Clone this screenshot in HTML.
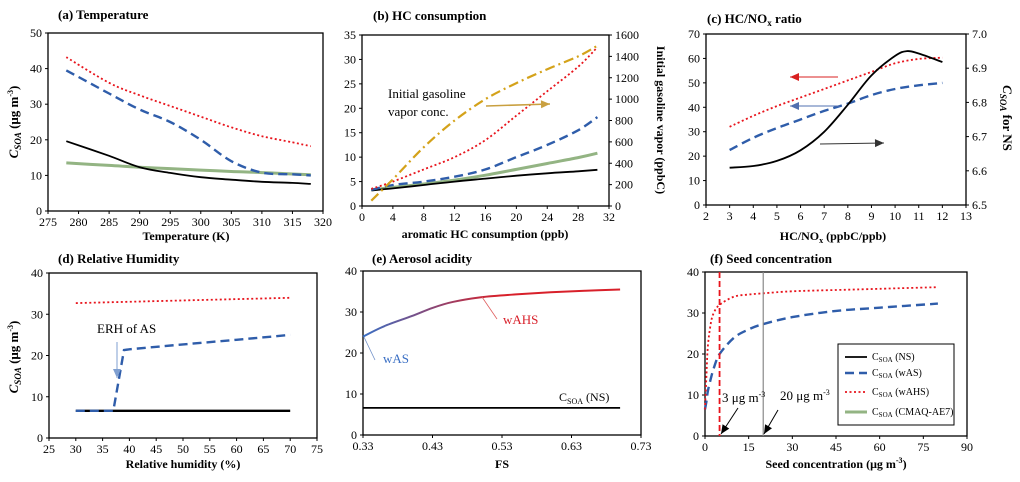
<!DOCTYPE html>
<html><head><meta charset="utf-8"><style>
html,body{margin:0;padding:0;background:#fff;}
svg{display:block;font-family:"Liberation Serif",serif;}
</style></head><body>
<svg id="fig" width="1020" height="482" viewBox="0 0 1020 482" xmlns="http://www.w3.org/2000/svg">
<defs>
<linearGradient id="acidGrad" gradientUnits="userSpaceOnUse" x1="363" y1="0" x2="500" y2="0">
<stop offset="0" stop-color="#3a6fc4"/><stop offset="1" stop-color="#d8202a"/></linearGradient>
</defs>
</svg>
<script>
// ---------- data ----------
const aT = [278,285,290,295,300,305,310,315,318];
const aNS = [19.6,15.5,12.3,10.7,9.5,8.8,8.2,7.9,7.6];
const aWAS = [39.5,33,28.5,25,20,14,10.8,10.3,10];
const aWAHS = [43.2,36,32.5,29.5,26.5,23.5,21,19.3,18.2];
const aCMAQ = [13.5,12.8,12.3,11.9,11.5,11.1,10.8,10.4,10.2];
const bX = [1.2,4,8,12,16,20,24,28,30.5];
const bNS = [3.2,3.6,4.3,5,5.6,6.2,6.7,7.1,7.4];
const bCMAQ = [3.3,3.8,4.5,5.3,6.3,7.5,8.7,9.9,10.8];
const bWAS = [3.3,4.3,5.0,6.0,7.5,10,12.5,15.5,18.2];
const bWAHS = [3.5,5.0,7.5,10,13.5,18.5,23.5,28.5,32.5];
const bGas = [50,250,550,800,1000,1150,1280,1400,1500];
const cX = [3,4,5,6,7,8,9,10,11,12];
const cWAHS = [32,36.5,40.5,44,47.5,51,54.5,58,59.8,60.3];
const cWAS = [22.5,27.5,31.5,35,38.5,41.5,45,47.5,49,50];
const cNSX = [3,4,5,6,7,8,9,10,10.5,11,12];
const cNS = [6.609,6.614,6.629,6.66,6.714,6.793,6.879,6.936,6.95,6.943,6.918];
const dRH = [30,37,38,39,40,50,60,70];
const dWAS = [6.6,6.6,14,21.3,21.5,22.7,23.8,25];
const dRH2 = [30,70];
const dNS = [6.6,6.6];
const dWAHS = [32.7,34];
const eFS = [0.33,0.36,0.40,0.43,0.46,0.50,0.55,0.60,0.65,0.70];
const eWAHS = [24,26.5,29,31,32.5,33.6,34.3,34.8,35.2,35.5];
const eFS2 = [0.33,0.70];
const eNS = [6.6,6.6];
const fSeed = [0,0.5,1,2,3,5,10,15,20,30,45,60,80];
const fWAHS = [6.5,15,22,27.5,30,32,34,34.5,34.8,35.3,35.6,35.9,36.3];
const fWAS = [6.5,8.5,11,14,16.5,20,24,26,27.3,29,30.5,31.3,32.3];
const xTicksA = [275,280,285,290,295,300,305,310,315,320];
const yTicksA = [0,10,20,30,40,50];
const xTicksB = [0,4,8,12,16,20,24,28,32];
const yTicksB = [0,5,10,15,20,25,30,35];
const y2TicksB = [0,200,400,600,800,1000,1200,1400,1600];
const xTicksC = [2,3,4,5,6,7,8,9,10,11,12,13];
const yTicksC = [0,10,20,30,40,50,60,70];
const y2TicksC = ["6.5","6.6","6.7","6.8","6.9","7.0"];
const xTicksD = [25,30,35,40,45,50,55,60,65,70,75];
const yTicks40 = [0,10,20,30,40];
const xTicksE = ["0.33","0.43","0.53","0.63","0.73"];
const xTicksF = [0,15,30,45,60,75,90];

// ---------- helpers ----------
const NS_ = "http://www.w3.org/2000/svg";
const svg = document.getElementById('fig');
function mk(tag, attrs, parent){
  const el = document.createElementNS(NS_, tag);
  for (const k in attrs) el.setAttribute(k, attrs[k]);
  (parent||svg).appendChild(el);
  return el;
}
function txt(x,y,s,opt,name){
  const el = mk('text', Object.assign({x:x,y:y,'font-size':12,fill:'#000'}, opt||{}));
  el.textContent = s;
  
  
  return el;
}
function panel(L,T,R,B,x0,x1,y0,y1,y20,y21){
  return {L,T,R,B,x0,x1,y0,y1,y20,y21,
    sx(v){return L+(v-x0)/(x1-x0)*(R-L);},
    sy(v){return B-(v-y0)/(y1-y0)*(B-T);},
    sy2(v){return B-(v-y20)/(y21-y20)*(B-T);}};
}
function pathD(pts){
  let d = 'M'+pts[0][0].toFixed(1)+','+pts[0][1].toFixed(1);
  for (let i=0;i<pts.length-1;i++){
    const p0=pts[Math.max(0,i-1)],p1=pts[i],p2=pts[i+1],p3=pts[Math.min(pts.length-1,i+2)];
    const c1=[p1[0]+(p2[0]-p0[0])/6,p1[1]+(p2[1]-p0[1])/6];
    const c2=[p2[0]-(p3[0]-p1[0])/6,p2[1]-(p3[1]-p1[1])/6];
    d+=' C'+c1[0].toFixed(1)+','+c1[1].toFixed(1)+' '+c2[0].toFixed(1)+','+c2[1].toFixed(1)+' '+p2[0].toFixed(1)+','+p2[1].toFixed(1);
  }
  return d;
}
function series(p,xs,ys,style,name,right,smooth){
  const pts = xs.map((x,i)=>[p.sx(x), right?p.sy2(ys[i]):p.sy(ys[i])]);
  const d = smooth===false ? 'M'+pts.map(q=>q[0].toFixed(1)+','+q[1].toFixed(1)).join(' L') : pathD(pts);
  const el = mk('path', Object.assign({d:d,fill:'none'}, style));
  
  
  return el;
}
function frame(p,name,xt,yt,y2t){
  const r = mk('rect',{x:p.L,y:p.T,width:p.R-p.L,height:p.B-p.T,fill:'none',stroke:'#000','stroke-width':1.3});
  
  
  xt.forEach(v=>{
    const x = p.sx(+v);
    const t = mk('line',{x1:x,x2:x,y1:p.B,y2:p.B+3,stroke:'#000','stroke-width':1});
    
    
    txt(x,p.B+15,String(v),{'text-anchor':'middle'},name+'-x-tick-label');
  });
  yt.forEach(v=>{
    const y = p.sy(+v);
    const t = mk('line',{x1:p.L-3,x2:p.L,y1:y,y2:y,stroke:'#000','stroke-width':1});
    
    
    txt(p.L-6,y+4,String(v),{'text-anchor':'end'},name+'-y-tick-label');
  });
  if (y2t) y2t.forEach(v=>{
    const y = p.sy2(+v);
    const t = mk('line',{x1:p.R,x2:p.R+3,y1:y,y2:y,stroke:'#000','stroke-width':1});
    
    
    txt(p.R+6,y+4,String(v),{'text-anchor':'start'},name+'-y2-tick-label');
  });
}
function arrow(x1,y1,x2,y2,color,name,w){
  const g = mk('g',{});
  
  
  mk('line',{x1:x1,y1:y1,x2:x2,y2:y2,stroke:color,'stroke-width':w||1},g);
  const a = Math.atan2(y2-y1,x2-x1), L=9, W=4;
  const bx=x2-L*Math.cos(a), by=y2-L*Math.sin(a);
  const px=-Math.sin(a)*W, py=Math.cos(a)*W;
  mk('polygon',{points:x2+','+y2+' '+(bx+px)+','+(by+py)+' '+(bx-px)+','+(by-py),fill:color},g);
}
const sNS = {stroke:'#000','stroke-width':1.8};
const sWAS = {stroke:'#2f5daa','stroke-width':2.4,'stroke-dasharray':'9 5'};
const sWAHS = {stroke:'#e8141c','stroke-width':1.8,'stroke-dasharray':'2 2.5'};
const sCMAQ = {stroke:'#93b483','stroke-width':3};
const bold = {'font-weight':'bold','font-size':13};

function ylabelCSOA(x,y,name,size){
  const t = mk('text',{x:0,y:0,transform:'translate('+x+','+y+') rotate(-90)','text-anchor':'middle','font-size':size||13,'font-weight':'bold'});
  
  
  t.innerHTML = '<tspan font-style="italic">C</tspan><tspan font-style="italic" font-size="9" dy="3">SOA</tspan><tspan dy="-3"> (μg m</tspan><tspan font-size="8" dy="-5">-3</tspan><tspan dy="5">)</tspan>';
}

// ---------- panel (a) ----------
const pa = panel(48,33,323,211,275,320,0,50);
frame(pa,'panel-a',xTicksA,yTicksA);
series(pa,aT,aCMAQ,sCMAQ,'a-cmaq-line');
series(pa,aT,aNS,sNS,'a-ns-line');
series(pa,aT,aWAS,sWAS,'a-was-line');
series(pa,aT,aWAHS,sWAHS,'a-wahs-line');
txt(58,19,'(a) Temperature',bold,'panel-a-title');
txt(186,240,'Temperature (K)',{'text-anchor':'middle','font-weight':'bold','font-size':12},'panel-a-x-title');
ylabelCSOA(18,122,'panel-a-y-title');

// ---------- panel (b) ----------
const pb = panel(362,35,609,206,0,32,0,35,0,1600);
frame(pb,'panel-b',xTicksB,yTicksB,y2TicksB);
series(pb,bX,bCMAQ,sCMAQ,'b-cmaq-line');
series(pb,bX,bNS,sNS,'b-ns-line');
series(pb,bX,bWAS,sWAS,'b-was-line');
series(pb,bX,bWAHS,sWAHS,'b-wahs-line');
series(pb,bX,bGas,{stroke:'#d4a21a','stroke-width':2.2,'stroke-dasharray':'10 4 2 4'},'b-gasoline-line',true);
txt(373,20,'(b) HC consumption',bold,'panel-b-title');
txt(388,98,'Initial gasoline',{'font-size':13},'b-gasoline-annotation');
txt(388,116,'vapor conc.',{'font-size':13},'b-gasoline-annotation-2');
arrow(486,106,550,104,'#c9a040','b-gasoline-arrow',1.5);
txt(485,238,'aromatic HC consumption (ppb)',{'text-anchor':'middle','font-weight':'bold','font-size':12},'panel-b-x-title');
(function(){const t=mk('text',{x:0,y:0,transform:'translate(657,120) rotate(90)','text-anchor':'middle','font-size':12,'font-weight':'bold'});


t.textContent='Initial  gasoline vapor (ppbC)';})();

// ---------- panel (c) ----------
const pc = panel(706,34,966,205,2,13,0,70,6.5,7.0);
frame(pc,'panel-c',xTicksC,yTicksC,y2TicksC);
series(pc,cX,cWAS,sWAS,'c-was-line');
series(pc,cX,cWAHS,sWAHS,'c-wahs-line');
series(pc,cNSX,cNS,sNS,'c-ns-line',true);
arrow(838,77,790,77,'#d82020','c-wahs-arrow');
arrow(840,106,790,106,'#5070b0','c-was-arrow');
arrow(820,144,884,143,'#333','c-ns-arrow');
(function(){const t=mk('text',{x:707,y:23,'font-size':13,'font-weight':'bold'});


t.innerHTML='(c) HC/NO<tspan font-size="9" dy="3">x</tspan><tspan dy="-3"> ratio</tspan>';})();
(function(){const t=mk('text',{x:833,y:240,'text-anchor':'middle','font-size':12,'font-weight':'bold'});


t.innerHTML='HC/NO<tspan font-size="8" dy="3">x</tspan><tspan dy="-3"> (ppbC/ppb)</tspan>';})();
(function(){const t=mk('text',{x:0,y:0,transform:'translate(1003,118) rotate(90)','text-anchor':'middle','font-size':13,'font-weight':'bold'});


t.innerHTML='<tspan font-style="italic">C</tspan><tspan font-style="italic" font-size="9" dy="3">SOA</tspan><tspan dy="-3">  for NS</tspan>';})();

// ---------- panel (d) ----------
const pd = panel(49,273,317,438,25,75,0,40);
frame(pd,'panel-d',xTicksD,yTicks40);
series(pd,dRH2,dNS,{stroke:'#000','stroke-width':2.4},'d-ns-line',false,false);
series(pd,dRH2,dWAHS,sWAHS,'d-wahs-line',false,false);
series(pd,dRH,dWAS,sWAS,'d-was-line',false,false);
txt(97,333,'ERH  of AS',{'font-size':13},'d-erh-annotation');
arrow(117,342,117,378,'#7f9fd0','d-erh-arrow');
txt(58,263,'(d) Relative Humidity',bold,'panel-d-title');
txt(183,468,'Relative humidity  (%)',{'text-anchor':'middle','font-weight':'bold','font-size':12},'panel-d-x-title');
ylabelCSOA(18,357,'panel-d-y-title');

// ---------- panel (e) ----------
const pe = panel(363,271,641,435,0.33,0.73,0,40);
frame(pe,'panel-e',xTicksE,yTicks40);
series(pe,eFS2,eNS,sNS,'e-ns-line',false,false);
series(pe,eFS,eWAHS,{stroke:'url(#acidGrad)','stroke-width':2},'e-acidity-line');
mk('line',{x1:482,y1:297,x2:497,y2:319,stroke:'#e06060','stroke-width':0.8});
mk('line',{x1:364,y1:337,x2:375,y2:360,stroke:'#7090c8','stroke-width':0.8});
txt(503,324,'wAHS',{fill:'#d8202a','font-size':13},'e-wahs-label');
txt(383,363,'wAS',{fill:'#3a6fc4','font-size':13},'e-was-label');
(function(){const t=mk('text',{x:559,y:401,'font-size':12});


t.innerHTML='C<tspan font-size="8" dy="3">SOA</tspan><tspan dy="-3"> (NS)</tspan>';})();
txt(372,263,'(e) Aerosol acidity',bold,'panel-e-title');
txt(502,468,'FS',{'text-anchor':'middle','font-weight':'bold','font-size':12},'panel-e-x-title');

// ---------- panel (f) ----------
const pf = panel(705,272,967,436,0,90,0,40);
frame(pf,'panel-f',xTicksF,yTicks40);
series(pf,fSeed,fWAS,sWAS,'f-was-line');
series(pf,fSeed,fWAHS,sWAHS,'f-wahs-line');
(function(){const x=pf.sx(5);const l=mk('line',{x1:x,x2:x,y1:pf.T,y2:pf.B,stroke:'#e8141c','stroke-width':1.8,'stroke-dasharray':'6 3'});


const x2=pf.sx(20);const l2=mk('line',{x1:x2,x2:x2,y1:pf.T,y2:pf.B,stroke:'#888','stroke-width':1.2});

})();
(function(){const t=mk('text',{x:722,y:402,'font-size':13});


t.innerHTML='3 μg m<tspan font-size="8" dy="-5">-3</tspan>';
const t2=mk('text',{x:780,y:400,'font-size':13});


t2.innerHTML='20 μg m<tspan font-size="8" dy="-5">-3</tspan>';})();
arrow(738,408,721,434,'#000','f-3ug-arrow');
arrow(778,410,764,434,'#000','f-20ug-arrow');
txt(710,263,'(f) Seed concentration',bold,'panel-f-title');
(function(){const t=mk('text',{x:836,y:468,'text-anchor':'middle','font-size':12,'font-weight':'bold'});


t.innerHTML='Seed concentration (μg m<tspan font-size="8" dy="-5">-3</tspan><tspan dy="5">)</tspan>';})();

// legend
(function(){
const g=mk('g',{});


mk('rect',{x:838,y:344,width:116,height:81,fill:'#fff',stroke:'#000','stroke-width':1},g);
const labels=['(NS)','(wAS)','(wAHS)','(CMAQ-AE7)'];
const styles=[sNS,sWAS,sWAHS,sCMAQ];
const ys=[357,373,392,412];
labels.forEach((s,i)=>{
  const e=mk('g',{},g);
  
  
  mk('line',Object.assign({x1:845,x2:867,y1:ys[i],y2:ys[i]},styles[i]),e);
  const t=mk('text',{x:872,y:ys[i]+3,'font-size':10},e);
  t.innerHTML='C<tspan font-size="7" dy="2">SOA</tspan><tspan dy="-2"> '+s+'</tspan>';
});
})();
</script>
</body></html>
